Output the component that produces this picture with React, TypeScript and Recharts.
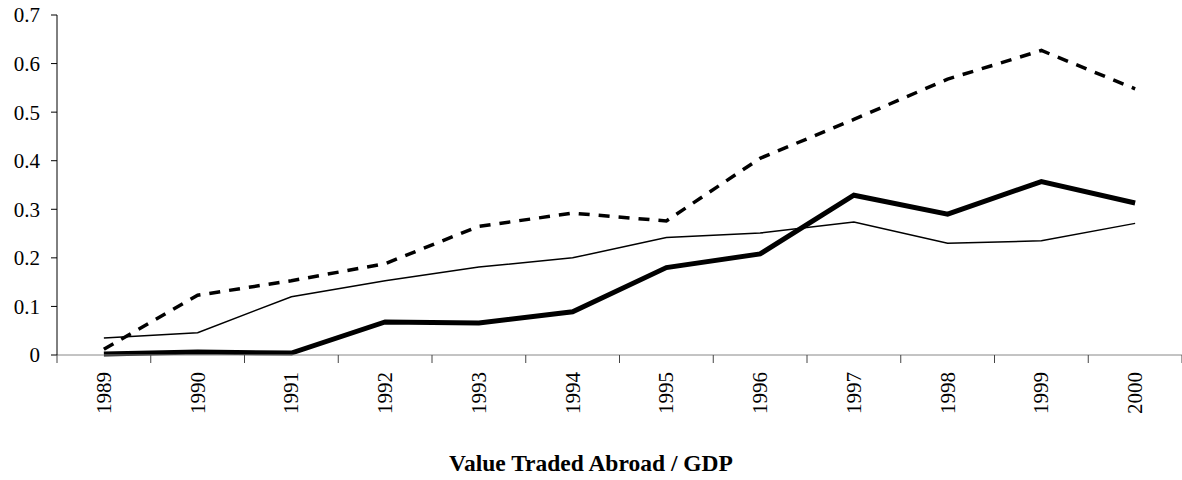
import { Line, LineChart, XAxis, YAxis } from "recharts";

document.body.style.margin = "0";

const years = ["1989", "1990", "1991", "1992", "1993", "1994", "1995", "1996", "1997", "1998", "1999", "2000"];
const thinSeries = [0.035, 0.046, 0.12, 0.153, 0.181, 0.2, 0.242, 0.251, 0.274, 0.23, 0.235, 0.271];
const thickSeries = [0.002, 0.006, 0.004, 0.068, 0.066, 0.089, 0.18, 0.208, 0.329, 0.29, 0.357, 0.313];
const dashedSeries = [0.012, 0.123, 0.153, 0.188, 0.265, 0.292, 0.276, 0.405, 0.485, 0.568, 0.627, 0.548];
const yTicks = [0, 0.1, 0.2, 0.3, 0.4, 0.5, 0.6, 0.7];

const data = years.map((year, i) => ({
  year,
  thin: thinSeries[i],
  thick: thickSeries[i],
  dashed: dashedSeries[i],
}));

const FONT = "'Liberation Serif', 'Times New Roman', serif";
const TICK_SIZE = 8;
const TICK_MARGIN = 9;

// excel-style category ticks: marks sit between categories, labels rotated
function YearTick(props: any) {
  const { x, y, payload, index, visibleTicksCount } = props;
  const half = payload.offset ?? 0;
  const axisY = y - TICK_SIZE - TICK_MARGIN;
  const last = index === visibleTicksCount - 1;
  return (
    <g>
      <line x1={x - half} x2={x - half} y1={axisY} y2={axisY + TICK_SIZE} stroke="#444" strokeWidth={1} />
      {last && <line x1={x + half} x2={x + half} y1={axisY} y2={axisY + TICK_SIZE} stroke="#444" strokeWidth={1} />}
      <text
        x={x}
        y={y}
        dy="0.33em"
        transform={`rotate(-90, ${x}, ${y})`}
        textAnchor="end"
        fontFamily={FONT}
        fontSize={21}
        fill="#000"
      >
        {payload.value}
      </text>
    </g>
  );
}

export default function App() {
  return (
    <div style={{ position: "relative", width: 1182, height: 480, background: "#fff" }}>
      <LineChart width={1182} height={480} data={data} margin={{ top: 15, right: 0, bottom: 0, left: 0 }}>
        <XAxis
          dataKey="year"
          scale="band"
          height={125}
          axisLine={{ stroke: "#888", strokeWidth: 1 }}
          tickLine={false}
          tickSize={TICK_SIZE}
          tickMargin={TICK_MARGIN}
          interval={0}
          tick={<YearTick />}
        />
        <YAxis
          width={57}
          domain={[0, 0.7]}
          ticks={yTicks}
          interval={0}
          axisLine={{ stroke: "#000", strokeWidth: 1 }}
          tickLine={{ stroke: "#000", strokeWidth: 1 }}
          tickSize={6}
          tickMargin={11}
          tick={{ fill: "#000", fontFamily: FONT, fontSize: 21 }}
        />
        <Line dataKey="thin" stroke="#000" strokeWidth={1.5} dot={false} isAnimationActive={false} />
        <Line dataKey="thick" stroke="#000" strokeWidth={5} dot={false} isAnimationActive={false} />
        <Line
          dataKey="dashed"
          stroke="#000"
          strokeWidth={3.5}
          strokeDasharray="11 9"
          dot={false}
          isAnimationActive={false}
        />
      </LineChart>
      <div
        style={{
          position: "absolute",
          top: 452,
          left: 0,
          width: 1182,
          textAlign: "center",
          fontFamily: FONT,
          fontWeight: "bold",
          fontSize: 23.5,
          lineHeight: 1,
          color: "#000",
        }}
      >
        Value Traded Abroad / GDP
      </div>
    </div>
  );
}
